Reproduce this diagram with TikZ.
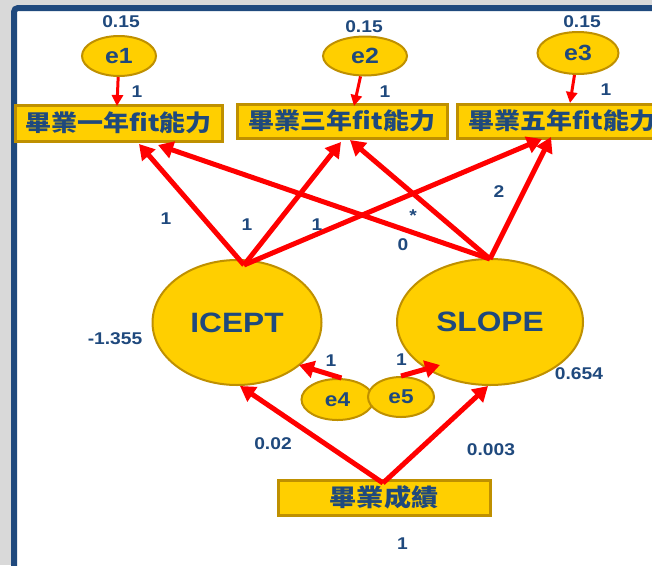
\documentclass[tikz,border=0pt]{standalone}
\usepackage{fontspec}
\setmainfont{Liberation Sans}[FakeStretch=1.13]
\newfontfamily\cjk{Noto Sans CJK TC}[FakeStretch=1.13]
\usetikzlibrary{arrows.meta,shapes.geometric}
\definecolor{gold}{RGB}{255,207,0}
\definecolor{goldline}{RGB}{191,144,0}
\definecolor{navy}{RGB}{31,73,125}
\definecolor{framenavy}{RGB}{31,73,125}
\definecolor{bggray}{RGB}{217,217,217}
\definecolor{arrred}{RGB}{255,0,0}
\tikzset{
  lat/.style={ellipse, draw=goldline, fill=gold, line width=2pt, inner sep=0pt, text=navy,
    font=\bfseries\fontsize{28}{28}\selectfont},
  err/.style={ellipse, draw=goldline, fill=gold, line width=2pt, inner sep=0pt, text=navy,
    font=\bfseries\fontsize{22}{22}\selectfont},
  obs/.style={rectangle, draw=goldline, fill=gold, line width=3pt, inner sep=0pt, text=navy,
    font=\cjk\bfseries\fontsize{23}{23}\selectfont},
  lbl/.style={inner sep=0pt, text=navy, font=\bfseries\fontsize{17}{17}\selectfont},
  arr/.style={draw=arrred, line width=5pt, -{Triangle[length=15pt,width=17pt]}},
  thinarr/.style={draw=arrred, line width=3pt, -{Triangle[length=11pt,width=11pt]}},
}
\begin{document}
\begin{tikzpicture}[x=1pt,y=-1pt]
\useasboundingbox (0,0) rectangle (652,565);
\clip (0,0) rectangle (652,565);
\fill[bggray] (0,0) rectangle (652,565);
\draw[framenavy, line width=6pt, fill=white, rounded corners=4pt] (14,8) rectangle (720,640);

% error terms of indicators
\node[err, minimum width=74pt, minimum height=40pt] (e1) at (119,56) {e1};
\node[err, minimum width=84pt, minimum height=39pt] (e2) at (365,56) {e2};
\node[err, minimum width=81pt, minimum height=42pt] (e3) at (578,53) {e3};

% indicators
\node[obs, minimum width=207pt, minimum height=36pt] (b1) at (118.5,123) {畢業一年fit能力};
\node[obs, minimum width=210pt, minimum height=34pt] (b2) at (342,121) {畢業三年fit能力};
\node[obs, minimum width=210pt, minimum height=34pt] (b3) at (562,121) {畢業五年fit能力};

% latent growth factors
\node[lat, minimum width=169pt, minimum height=125pt] (icept) at (237,322.5) {ICEPT};
\node[lat, minimum width=186pt, minimum height=126pt] (slope) at (490,322) {SLOPE};

% disturbances
\node[err, font=\bfseries\fontsize{20}{20}\selectfont, minimum width=72pt, minimum height=41pt] (e4) at (337.5,399.5) {e4};
\node[err, font=\bfseries\fontsize{20}{20}\selectfont, minimum width=66pt, minimum height=40pt] (e5) at (401,397) {e5};

% covariate
\node[obs, font=\cjk\bfseries\fontsize{24}{24}\selectfont, minimum width=212pt, minimum height=35pt] (g) at (384,497.5) {畢業成績};

% connector end points
\coordinate (ia) at (244,265);
\coordinate (sa) at (490,259);
\coordinate (t11) at (139,144);
\coordinate (t21) at (158,145);
\coordinate (t12) at (341,142);
\coordinate (t22) at (350,140);
\coordinate (t13) at (542,139);
\coordinate (t23) at (551,137);
\coordinate (u1) at (117,106);
\coordinate (u2) at (354,106);
\coordinate (u3) at (570,103);
\coordinate (ga) at (383,483);
\coordinate (gi) at (240,386);
\coordinate (gs) at (488,386);
\coordinate (d4) at (299,365);
\coordinate (d5) at (440,365);

% arrows e -> indicators
\draw[thinarr] (e1) -- (u1);
\draw[thinarr] (e2) -- (u2);
\draw[thinarr] (e3) -- (u3);

% loadings
\draw[arr] (ia) -- (t11);
\draw[arr] (ia) -- (t12);
\draw[arr] (ia) -- (t13);
\draw[arr] (sa) -- (t21);
\draw[arr] (sa) -- (t22);
\draw[arr] (sa) -- (t23);

% disturbances
\draw[arr] ([xshift=4pt]e4.north) -- (d4);
\draw[arr] (e5.north) -- (d5);

% covariate paths
\draw[arr] (ga) -- (gi);
\draw[arr] (ga) -- (gs);

% labels
\node[lbl] (l1) at (121,22) {0.15};
\node[lbl] (l2) at (364,27) {0.15};
\node[lbl] (l3) at (582,21.5) {0.15};
\node[lbl] (l4) at (137,92) {1};
\node[lbl] (l5) at (385,92) {1};
\node[lbl] (l6) at (606,90) {1};
\node[lbl] (l7) at (166,219) {1};
\node[lbl] (l8) at (247,225) {1};
\node[lbl] (l9) at (317,225) {1};
\node[lbl, anchor=base] (l10) at (413,221) {*};
\node[lbl] (l11) at (403,245) {0};
\node[lbl] (l12) at (499,192) {2};
\node[lbl] (l13) at (115,339) {-1.355};
\node[lbl] (l14) at (579,374) {0.654};
\node[lbl] (l15) at (331,361) {1};
\node[lbl] (l16) at (401.5,360) {1};
\node[lbl] (l17) at (273,444) {0.02};
\node[lbl] (l18) at (491,450) {0.003};
\node[lbl] (l19) at (402.5,544) {1};
\end{tikzpicture}
\end{document}
